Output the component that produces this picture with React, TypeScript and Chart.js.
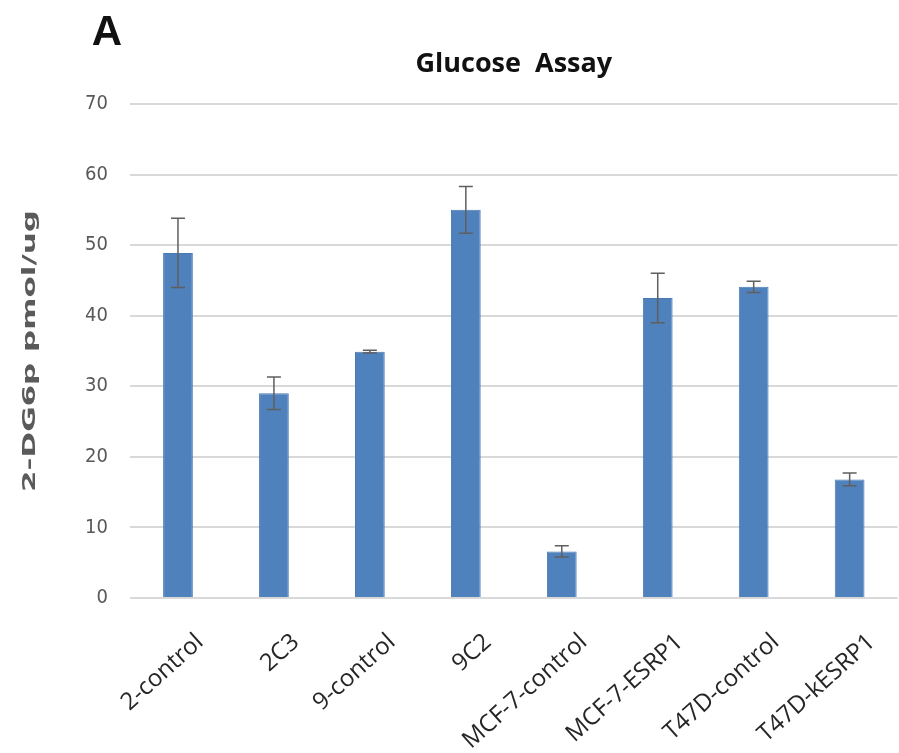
import React, { useEffect, useRef } from "react";
import { Chart, registerables } from "chart.js";

Chart.register(...registerables);

const categories = [
  "2-control",
  "2C3",
  "9-control",
  "9C2",
  "MCF-7-control",
  "MCF-7-ESRP1",
  "T47D-control",
  "T47D-kESRP1",
];
const values = [48.9, 29.0, 34.9, 55.0, 6.6, 42.5, 44.1, 16.8];
const errors = [4.9, 2.3, 0.2, 3.3, 0.8, 3.5, 0.8, 0.9];
const yTicks = [0, 10, 20, 30, 40, 50, 60, 70];
const chartTitle = "Glucose  Assay";
const yTitle = "2-DG6p pmol/ug";
const panelLetter = "A";

const errorBarPlugin = {
  id: "errorBars",
  afterDatasetsDraw(chart: any) {
    const meta = chart.getDatasetMeta(0);
    const y = chart.scales.y;
    const ctx = chart.ctx;
    ctx.save();
    ctx.strokeStyle = "#5f5f5f";
    ctx.lineWidth = 1.5;
    meta.data.forEach((bar: any, i: number) => {
      const x = bar.x;
      const top = y.getPixelForValue(values[i] + errors[i]);
      const bot = y.getPixelForValue(values[i] - errors[i]);
      const cap = 7;
      ctx.beginPath();
      ctx.moveTo(x, top);
      ctx.lineTo(x, bot);
      ctx.moveTo(x - cap, top);
      ctx.lineTo(x + cap, top);
      ctx.moveTo(x - cap, bot);
      ctx.lineTo(x + cap, bot);
      ctx.stroke();
    });
    ctx.restore();
  },
};

const decorPlugin = {
  id: "decor",
  afterDraw(chart: any) {
    const ctx = chart.ctx;
    const area = chart.chartArea;
    ctx.save();
    // panel letter
    ctx.fillStyle = "#111111";
    ctx.font = "bold 42px 'Liberation Sans', Arial, sans-serif";
    ctx.textAlign = "center";
    ctx.textBaseline = "alphabetic";
    ctx.fillText(panelLetter, 107, 45);
    ctx.restore();

    // y-axis title (stretched along its direction, like the reference)
    ctx.save();
    ctx.font = "bold 17px 'DejaVu Sans', sans-serif";
    const w = ctx.measureText(yTitle).width;
    const targetLen = 282;
    ctx.translate(31, (area.top + area.bottom) / 2);
    ctx.rotate(-Math.PI / 2);
    ctx.scale(targetLen / w, 1);
    ctx.fillStyle = "#5a5a5a";
    ctx.textAlign = "center";
    ctx.textBaseline = "middle";
    ctx.fillText(yTitle, 0, 0);
    ctx.restore();
  },
};

export default function App() {
  const canvasRef = useRef<HTMLCanvasElement | null>(null);

  useEffect(() => {
    document.body.style.margin = "0";
    const canvas = canvasRef.current;
    if (!canvas) return;
    const chart = new Chart(canvas, {
      type: "bar",
      data: {
        labels: categories,
        datasets: [
          {
            data: values,
            backgroundColor: "#4f81bd",
            borderColor: "#4a7ab3",
            borderWidth: 1,
            barPercentage: 0.31,
            categoryPercentage: 1,
          },
        ],
      },
      options: {
        responsive: false,
        animation: false,
        devicePixelRatio: 1,
        layout: { padding: { left: 0, right: 0, top: 0, bottom: 0 } },
        plugins: {
          legend: { display: false },
          tooltip: { enabled: false },
          title: {
            display: true,
            text: chartTitle,
            fullSize: false,
            color: "#111111",
            font: { family: "'Open Sans', sans-serif", size: 27, weight: "bold", lineHeight: 1.2 },
            padding: { top: 48, bottom: 23.6 },
          },
        },
        scales: {
          x: {
            grid: { display: false, drawTicks: false },
            border: { display: false },
            ticks: {
              color: "#262626",
              font: { family: "'Open Sans', sans-serif", size: 24 },
              minRotation: 42,
              maxRotation: 42,
              autoSkip: false,
              padding: 30,
              labelOffset: 22,
            },
            afterFit: (scale: any) => {
              scale.height = 155;
            },
          },
          y: {
            min: 0,
            max: 70,
            afterBuildTicks: (scale: any) => {
              scale.ticks = yTicks.map((v) => ({ value: v }));
            },
            grid: { color: "#d9d9d9", lineWidth: 2, drawTicks: false },
            border: { display: false },
            ticks: {
              color: "#595959",
              font: { family: "'DejaVu Sans Condensed', 'DejaVu Sans', sans-serif", size: 20 },
              padding: 22,
            },
            afterFit: (scale: any) => {
              scale.width = 130;
            },
          },
        },
      },
      plugins: [errorBarPlugin, decorPlugin],
    });
    return () => chart.destroy();
  }, []);

  return (
    <div style={{ width: 899, height: 753, background: "#ffffff" }}>
      <canvas ref={canvasRef} width={899} height={753} style={{ display: "block" }} />
    </div>
  );
}
